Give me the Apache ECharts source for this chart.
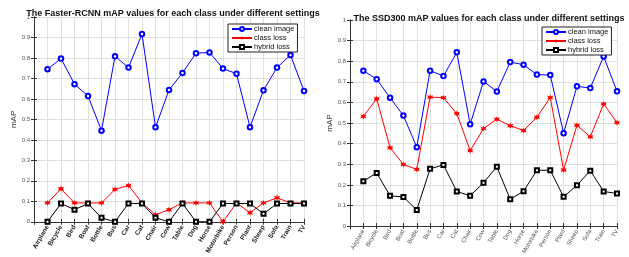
<!DOCTYPE html>
<html>
<head>
<meta charset="utf-8">
<script src="https://cdn.jsdelivr.net/npm/echarts@6/dist/echarts.min.js"></script>
<style>
    html, body {margin: 0; padding: 0; background: #fff;}
    #main {width: 629px; height: 257px;}
</style>
</head>
<body>
<div id="main"></div>
<script>
// 类别
var classes = ['Airplane', 'Bicycle', 'Bird', 'Boat', 'Bottle', 'Bus', 'Car', 'Cat', 'Chair', 'Cow',
    'Table', 'Dog', 'Horse', 'Motorbike', 'Person', 'Plant', 'Sheep', 'Sofa', 'Train', 'TV'];
var yTicks = [0, 0.1, 0.2, 0.3, 0.4, 0.5, 0.6, 0.7, 0.8, 0.9, 1];

// Faster-RCNN
var frcnnClean = [0.745, 0.797, 0.672, 0.614, 0.445, 0.808, 0.753, 0.917, 0.461, 0.644,
    0.727, 0.823, 0.827, 0.748, 0.723, 0.462, 0.642, 0.753, 0.814, 0.639];
var frcnnClass = [0.092, 0.161, 0.092, 0.092, 0.092, 0.158, 0.177, 0.092, 0.034, 0.059,
    0.092, 0.092, 0.092, 0, 0.092, 0.044, 0.092, 0.117, 0.092, 0.092];
var frcnnHybrid = [0, 0.089, 0.059, 0.089, 0.019, 0, 0.089, 0.089, 0.019, 0,
    0.089, 0, 0, 0.089, 0.089, 0.089, 0.039, 0.089, 0.089, 0.089];

// SSD300
var ssdClean = [0.754, 0.713, 0.623, 0.536, 0.383, 0.754, 0.728, 0.843, 0.494, 0.702,
    0.653, 0.796, 0.783, 0.735, 0.733, 0.451, 0.678, 0.670, 0.823, 0.654];
var ssdClass = [0.532, 0.618, 0.380, 0.299, 0.275, 0.626, 0.623, 0.546, 0.366, 0.473,
    0.519, 0.487, 0.464, 0.528, 0.624, 0.272, 0.489, 0.433, 0.593, 0.502];
var ssdHybrid = [0.218, 0.258, 0.147, 0.141, 0.078, 0.278, 0.297, 0.168, 0.147, 0.210,
    0.288, 0.130, 0.169, 0.271, 0.271, 0.142, 0.198, 0.269, 0.168, 0.158];

var names = ['clean image', 'class loss', 'hybrid loss'];

// 星号标记
var starPath = 'path://M5,0L6.2,3L9.3,1.8L8,5L9.3,8.2L6.2,7L5,10L3.8,7L0.7,8.2L2,5L0.7,1.8L3.8,3Z';

// 类别下标从1开始
function toPoints(arr) {
    return arr.map(function (v, i) { return [i + 1, v]; });
}

function xAxisOf(gridIndex, bold) {
    return {
        type: 'value', gridIndex: gridIndex, min: 0, max: classes.length, interval: 1,
        axisLine: {show: true, lineStyle: {color: '#333', width: 1}},
        axisTick: {show: true, inside: true, length: 3, lineStyle: {color: '#333'}},
        splitLine: {show: true, lineStyle: {color: '#e0e0e0', width: 1}},
        axisLabel: {
            rotate: 60, margin: 4, fontSize: bold ? 6.5 : 6,
            fontWeight: bold ? 'bold' : 'normal', color: bold ? '#222' : '#555',
            showMinLabel: false,
            formatter: function (v) { return classes[v - 1] || ''; }
        }
    };
}

function topAxisOf(gridIndex) {
    return {
        type: 'value', gridIndex: gridIndex, position: 'top', min: 0, max: classes.length, interval: 1,
        axisLine: {show: true, lineStyle: {color: '#333'}},
        axisTick: {show: true, inside: true, length: 3, lineStyle: {color: '#333'}},
        axisLabel: {show: false}, splitLine: {show: false}
    };
}

function yAxisOf(gridIndex) {
    return {
        type: 'value', gridIndex: gridIndex, min: yTicks[0], max: yTicks[yTicks.length - 1], interval: 0.1,
        name: 'mAP', nameLocation: 'middle', nameGap: 14,
        nameTextStyle: {fontSize: 8, color: '#333'},
        axisLine: {show: true, lineStyle: {color: '#333'}},
        axisTick: {show: true, inside: true, length: 3, lineStyle: {color: '#333'}},
        splitLine: {show: true, lineStyle: {color: '#e0e0e0'}},
        axisLabel: {fontSize: 6, color: '#555', margin: 4}
    };
}

function rightAxisOf(gridIndex) {
    return {
        type: 'value', gridIndex: gridIndex, position: 'right', min: 0, max: 1, interval: 0.1,
        axisLine: {show: true, lineStyle: {color: '#333'}},
        axisTick: {show: true, inside: true, length: 3, lineStyle: {color: '#333'}},
        axisLabel: {show: false}, splitLine: {show: false}
    };
}

function seriesOf(axisIdx, clean, cls, hybrid) {
    return [{
        name: names[0], type: 'line', xAxisIndex: axisIdx, yAxisIndex: axisIdx,
        data: toPoints(clean), symbol: 'emptyCircle', symbolSize: 4.5,
        lineStyle: {color: '#0000ff', width: 1}, itemStyle: {color: '#0000ff', borderWidth: 1},
        animation: false
    }, {
        name: names[1], type: 'line', xAxisIndex: axisIdx, yAxisIndex: axisIdx,
        data: toPoints(cls), symbol: starPath, symbolSize: 6,
        lineStyle: {color: '#ff0000', width: 1}, itemStyle: {color: '#ff0000'},
        animation: false
    }, {
        name: names[2], type: 'line', xAxisIndex: axisIdx, yAxisIndex: axisIdx,
        data: toPoints(hybrid), symbol: 'emptyRect', symbolSize: 4,
        lineStyle: {color: '#000', width: 1}, itemStyle: {color: '#000', borderWidth: 1},
        animation: false
    }];
}

function legendOf(left, top) {
    return {
        data: names, orient: 'vertical', left: left, top: top,
        itemWidth: 20, itemHeight: 5, itemGap: 1, padding: [1, 3, 1, 3],
        borderColor: '#222', borderWidth: 1, backgroundColor: '#fff',
        textStyle: {fontSize: 7.5, color: '#111', padding: [0, 0, 0, -3]},
        selectedMode: false
    };
}

var chart = echarts.init(document.getElementById('main'));
var option = {
    backgroundColor: '#fff',
    title: [{
        text: 'The Faster-RCNN mAP values for each class under different settings',
        left: 168, top: 4, textAlign: 'center',
        textStyle: {fontSize: 9, fontWeight: 'bold', color: '#111'}
    }, {
        text: 'The SSD300 mAP values for each class under different settings',
        left: 484, top: 9, textAlign: 'center',
        textStyle: {fontSize: 9, fontWeight: 'bold', color: '#111'}
    }],
    legend: [legendOf(228, 24), legendOf(542, 27)],
    grid: [
        {left: 34, right: 325, top: 17, bottom: 26},
        {left: 350, right: 12, top: 20, bottom: 26}
    ],
    // 上轴与右轴只画刻度
    xAxis: [xAxisOf(0, true), topAxisOf(0), xAxisOf(1, false), topAxisOf(1)],
    yAxis: [yAxisOf(0), rightAxisOf(0), yAxisOf(1), rightAxisOf(1)],
    series: seriesOf(0, frcnnClean, frcnnClass, frcnnHybrid)
        .concat(seriesOf(2, ssdClean, ssdClass, ssdHybrid))
};
chart.setOption(option, true);
</script>
</body>
</html>
